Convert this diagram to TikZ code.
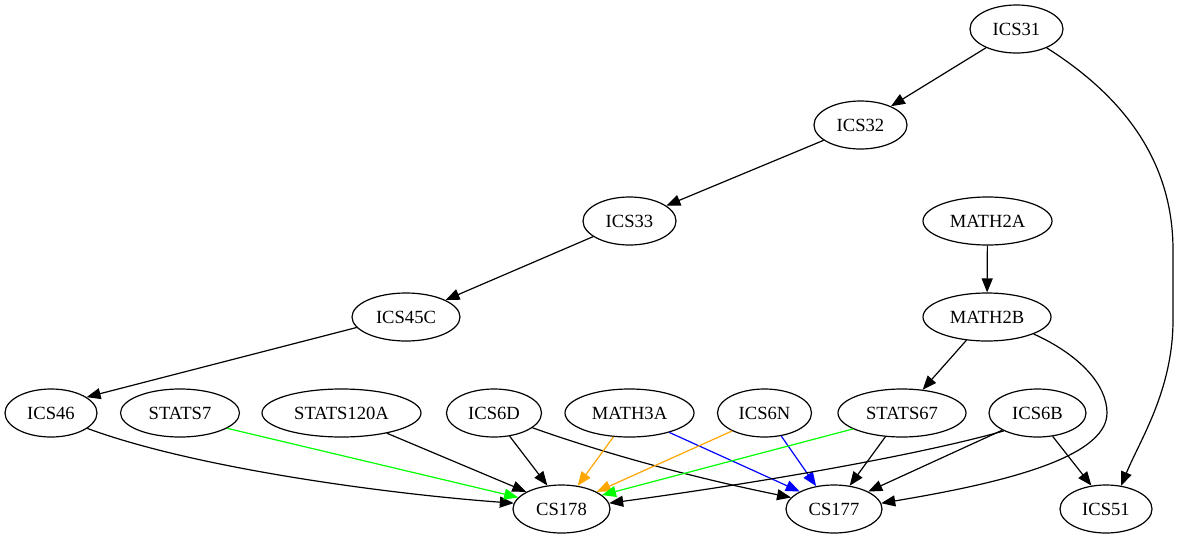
\documentclass[tikz,border=0pt]{standalone}
\usepackage{fontspec}
\setmainfont{Liberation Serif}
\usetikzlibrary{shapes.geometric,arrows.meta}
\definecolor{pgreen}{RGB}{0,255,0}
\definecolor{porange}{RGB}{255,165,0}
\definecolor{pblue}{RGB}{0,0,255}
\begin{document}
\begin{tikzpicture}[x=1pt,y=-1pt,
  course/.style={ellipse, draw, line width=1.2pt, minimum height=48pt,
    minimum width=#1, inner sep=0pt, font=\fontsize{18.6}{20}\selectfont},
  course/.default=93pt,
  req/.style={line width=1.2pt, -{Triangle[length=14pt,width=11pt]}}]
\useasboundingbox (0,0) rectangle (1179,539);

% course nodes
\node[course]          (ICS31)     at (1016.5,29)  {ICS31};
\node[course]          (ICS32)     at (860.5,125)  {ICS32};
\node[course]          (ICS33)     at (629.5,221)  {ICS33};
\node[course=108pt]    (ICS45C)    at (406,317)    {ICS45C};
\node[course=129pt]    (MATH2A)    at (987.5,221)  {MATH2A};
\node[course=128pt]    (MATH2B)    at (987,317)    {MATH2B};
\node[course=92pt]     (ICS46)     at (51,413)     {ICS46};
\node[course=119pt]    (STATS7)    at (180,413)    {STATS7};
\node[course=159pt]    (STATS120A) at (341.5,413)  {STATS120A};
\node[course=95pt]     (ICS6D)     at (494,413)    {ICS6D};
\node[course=129pt]    (MATH3A)    at (629.5,413)  {MATH3A};
\node[course=94pt]     (ICS6N)     at (764.5,413)  {ICS6N};
\node[course=128pt]    (STATS67)   at (902,413)    {STATS67};
\node[course=97pt]     (ICS6B)     at (1037.5,413) {ICS6B};
\node[course=97pt]     (CS178)     at (561.5,509)  {CS178};
\node[course=96pt]     (CS177)     at (834,509)    {CS177};
\node[course=92pt]     (ICS51)     at (1106,509)   {ICS51};

% prerequisite chains
\draw[req] (ICS31) -- (ICS32);
\draw[req] (ICS32) -- (ICS33);
\draw[req] (ICS33) -- (ICS45C);
\draw[req] (ICS45C.192) -- (ICS46.24);
\draw[req] (MATH2A) -- (MATH2B);
\draw[req] (MATH2B) -- (STATS67);
\draw[req] (ICS31.-32) .. controls (1110,88) and (1173,150) .. (1173,250)
  -- (1173,320) .. controls (1173,390) and (1140,440) .. (ICS51.57);
\draw[req] (MATH2B.-20) .. controls (1080,355) and (1107,385) .. (1107,413)
  .. controls (1107,460) and (990,485) .. (CS177.7);

% edges into CS178 and CS177
\draw[req] (ICS46.-23) .. controls (200,470) and (400,495) .. (CS178.173);
\draw[req, pgreen] (STATS7.-18) -- (CS178.165);
\draw[req] (STATS120A.-24) -- (CS178.154);
\draw[req] (ICS6D.-56) -- (CS178.121);
\draw[req] (ICS6D.-21) .. controls (612,456) and (700,479) .. (CS177.165);
\draw[req, porange] (MATH3A.-124) -- (CS178.55);
\draw[req, pblue] (MATH3A.-26) -- (CS177.153);
\draw[req, porange] (ICS6N.209) -- (CS178.26);
\draw[req, pblue] (ICS6N.-54) -- (CS177.128);
\draw[req, pgreen] (STATS67.198) -- (CS178.19);
\draw[req] (STATS67.235) -- (CS177.56);
\draw[req] (ICS6B.208) .. controls (930,452) and (780,480) .. (CS178.7);
\draw[req] (ICS6B.206) -- (CS177.27);
\draw[req] (ICS6B.-57) -- (ICS51.122);
\end{tikzpicture}
\end{document}
